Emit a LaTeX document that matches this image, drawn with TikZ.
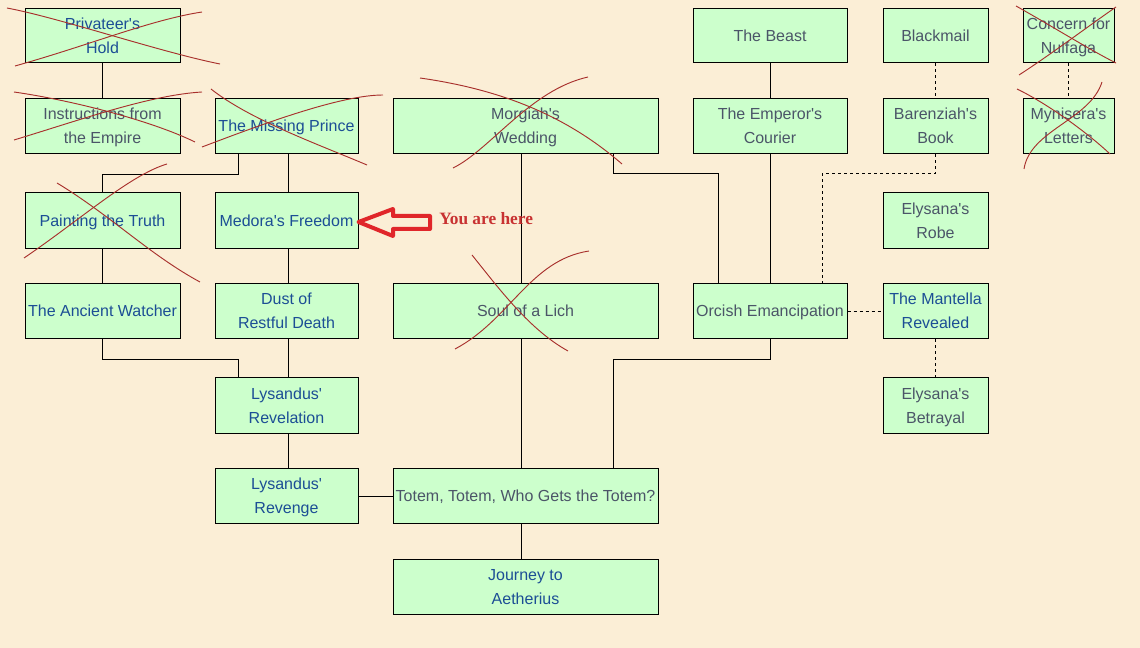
\documentclass[tikz,border=0pt]{standalone}
\usepackage{fontspec}
\setmainfont{Liberation Sans}
\newfontfamily\youfont{Liberation Serif}
\usetikzlibrary{calc}
\definecolor{bgc}{HTML}{FBEED6}
\definecolor{boxc}{HTML}{CCFFCC}
\definecolor{bluet}{HTML}{1C4E95}
\definecolor{greyt}{HTML}{4B5568}
\definecolor{crossc}{HTML}{A8302C}
\definecolor{arrowc}{HTML}{E0262A}
\definecolor{youc}{HTML}{C83232}
\newcommand\qa{\textquotesingle}
\newcommand\qbox[7]{%
  \pgfmathsetmacro\qw{(#4-#2)*0.75}%
  \pgfmathsetmacro\qh{(#5-#3)*0.75}%
  \node[qnode, text=#6, minimum width=\qw pt, minimum height=\qh pt] (#1) at ({(#2+#4)/2},{(#3+#5)/2})
    {\rule{0pt}{11pt}#7\rule[-2.8pt]{0pt}{2.8pt}};}
\begin{document}
\begin{tikzpicture}[x=0.75pt,y=-0.75pt,
  qnode/.style={draw=black, line width=0.75pt, fill=boxc, inner sep=0pt, align=center,
    font=\fontsize{12}{18}\selectfont},
  link/.style={draw=black, line width=0.75pt},
  dlink/.style={draw=black, line width=0.75pt, dash pattern=on 2.25pt off 2.25pt},
  crossline/.style={draw=crossc, line width=0.7pt},
]
\fill[bgc] (0,0) rectangle (1140,648);
\useasboundingbox (0,0) rectangle (1140,648);

\qbox{ph}{25}{9}{180}{63}{bluet}{Privateer\qa s\\Hold}
\qbox{ie}{25}{99}{180}{154}{greyt}{Instructions from\\the Empire}
\qbox{mp}{215}{99}{358}{154}{bluet}{The Missing Prince}
\qbox{mw}{393}{99}{658}{154}{greyt}{Morgiah\qa s\\Wedding}
\qbox{tb}{693}{9}{847}{63}{greyt}{The Beast}
\qbox{ec}{693}{99}{847}{154}{greyt}{The Emperor\qa s\\Courier}
\qbox{bm}{883}{9}{988}{63}{greyt}{Blackmail}
\qbox{bb}{883}{99}{988}{154}{greyt}{Barenziah\qa s\\Book}
\qbox{cn}{1023}{9}{1114}{63}{greyt}{Concern for\\Nulfaga}
\qbox{ml}{1023}{99}{1114}{154}{greyt}{Mynisera\qa s\\Letters}
\qbox{pt}{25}{193}{180}{249}{bluet}{Painting the Truth}
\qbox{md}{215}{193}{358}{249}{bluet}{Medora\qa s Freedom}
\qbox{er}{883}{193}{988}{249}{greyt}{Elysana\qa s\\Robe}
\qbox{aw}{25}{284}{180}{339}{bluet}{The Ancient Watcher}
\qbox{dr}{215}{284}{358}{339}{bluet}{Dust of\\Restful Death}
\qbox{sl}{393}{284}{658}{339}{greyt}{Soul of a Lich}
\qbox{oe}{693}{284}{847}{339}{greyt}{Orcish Emancipation}
\qbox{mr}{883}{284}{988}{339}{bluet}{The Mantella\\Revealed}
\qbox{lr}{215}{378}{358}{434}{bluet}{Lysandus\qa\\Revelation}
\qbox{eb}{883}{378}{988}{434}{greyt}{Elysana\qa s\\Betrayal}
\qbox{lv}{215}{469}{358}{524}{bluet}{Lysandus\qa\\Revenge}
\qbox{tt}{393}{469}{658}{524}{greyt}{Totem, Totem, Who Gets the Totem?}
\qbox{ja}{393}{560}{658}{615}{bluet}{Journey to\\Aetherius}

% solid connectors
\draw[link] (ph) -- (ie);
\draw[link] ($(mp.south west)+(24,0)$) -- ++(0,20) -| (pt.north);
\draw[link] ($(mp.south west)+(74,0)$) -- ($(md.north west)+(74,0)$);
\draw[link] (pt) -- (aw);
\draw[link] ($(md.south west)+(74,0)$) -- ($(dr.north west)+(74,0)$);
\draw[link] (aw.south) -- ++(0,20) -| ($(lr.north west)+(24,0)$);
\draw[link] ($(dr.south west)+(74,0)$) -- ($(lr.north west)+(74,0)$);
\draw[link] ($(lr.south west)+(74,0)$) -- ($(lv.north west)+(74,0)$);
\draw[link] (lv.east) -- (tt.west);
\draw[link] ($(mw.south west)+(129,0)$) -- ($(sl.north west)+(129,0)$);
\draw[link] ($(sl.south west)+(129,0)$) -- ($(tt.north west)+(129,0)$);
\draw[link] ($(tt.south west)+(129,0)$) -- ($(ja.north west)+(129,0)$);
\draw[link] ($(mw.south east)+(-45,0)$) |- ($(oe.north west)+(26,-110)$) -- ($(oe.north west)+(26,0)$);
\draw[link] (tb) -- (ec);
\draw[link] (ec) -- (oe);
\draw[link] (oe.south) -- ++(0,20) -| ($(tt.north east)+(-45,0)$);

% dashed connectors
\draw[dlink] (bm) -- (bb);
\draw[dlink] (bb.south) |- ($(oe.north east)+(-25,-110)$) -- ($(oe.north east)+(-25,0)$);
\draw[dlink] (oe.east) -- (mr.west);
\draw[dlink] (mr) -- (eb);
\draw[dlink] (cn) -- (ml);

% you are here arrow
\draw[draw=arrowc, line width=3pt, line join=round]
  ($(md.east)+(0,1)$) -- (393,209) -- (393,216) -- (430,216) -- (430,229) -- (393,229) -- (393,236) -- cycle;
\node[anchor=base west, inner sep=0pt, text=youc, font=\youfont\bfseries\fontsize{13}{15}\selectfont] (yah) at (439,225) {You are here};

% hand-drawn crosses
\draw[crossline] (7,8) .. controls (60,18) and (160,52) .. (220,64);
\draw[crossline] (15,66) .. controls (90,45) and (150,20) .. (202,12);
\draw[crossline] (14,92) .. controls (70,100) and (150,120) .. (195,142);
\draw[crossline] (14,140) .. controls (80,120) and (150,95) .. (202,92);
\draw[crossline] (211,89) .. controls (250,120) and (320,145) .. (367,165);
\draw[crossline] (202,147) .. controls (260,125) and (340,95) .. (383,95);
\draw[crossline] (57,183) .. controls (110,215) and (150,255) .. (200,282);
\draw[crossline] (24,258) .. controls (80,220) and (130,175) .. (167,164);
\draw[crossline] (420,78) .. controls (490,88) and (560,110) .. (622,164);
\draw[crossline] (453,168) .. controls (490,150) and (530,90) .. (588,77);
\draw[crossline] (472,255) .. controls (500,290) and (530,330) .. (568,351);
\draw[crossline] (455,349) .. controls (510,320) and (530,260) .. (589,251);
\draw[crossline] (1016,6) .. controls (1050,25) and (1090,50) .. (1116,63);
\draw[crossline] (1019,75) .. controls (1050,55) and (1090,25) .. (1116,7);
\draw[crossline] (1017,89) .. controls (1050,105) and (1090,135) .. (1110,154);
\draw[crossline] (1024,169) .. controls (1030,130) and (1090,120) .. (1102,82);
\end{tikzpicture}
\end{document}
